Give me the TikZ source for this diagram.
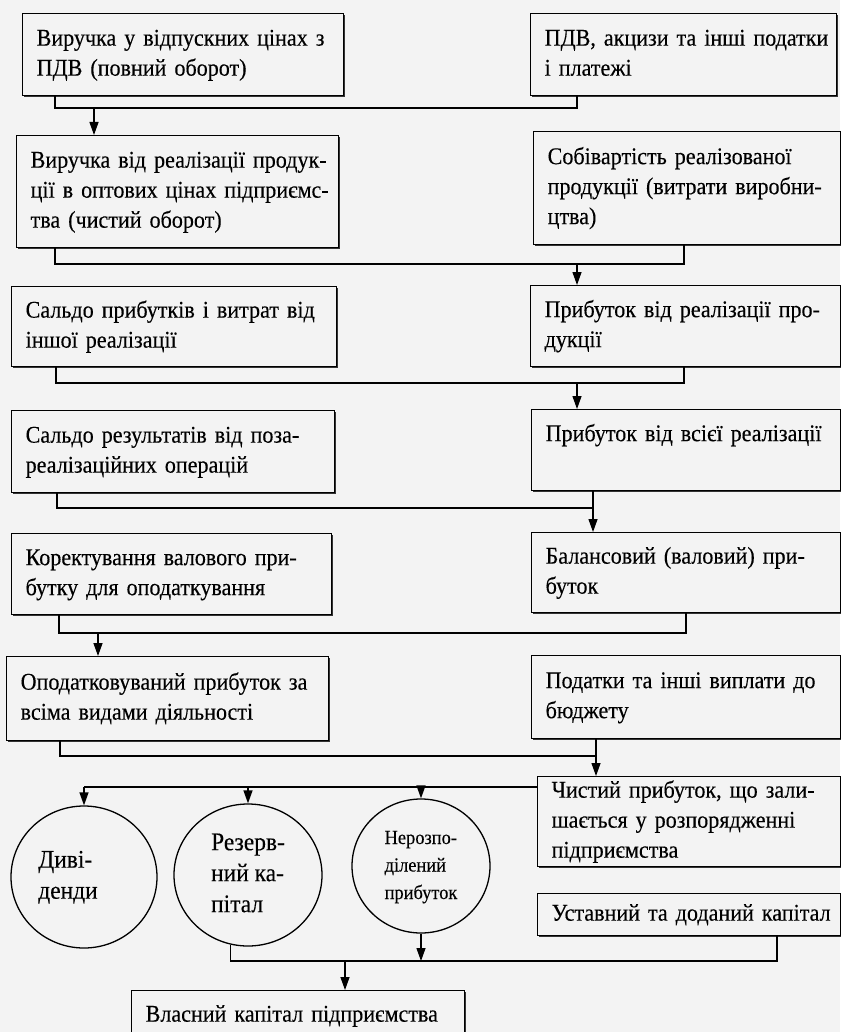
\documentclass[tikz,border=0pt]{standalone}
\usepackage{fontspec}
\setmainfont{Liberation Serif}[FakeStretch=0.92,FakeBold=0.25]
\usetikzlibrary{arrows.meta,shadows,shapes.geometric,calc}
\definecolor{bgc}{RGB}{243,243,243}
\newcommand{\lns}[1]{\begin{tabular}{@{}l@{}}#1\end{tabular}}
\begin{document}
\begin{tikzpicture}[x=1pt,y=-1pt,
  ln/.style={line width=1.3pt},
  arr/.style={line width=1.3pt,-{Triangle[length=13pt,width=9pt]}},
  box/.style={draw,line width=1.3pt,fill=bgc,
    general shadow={shadow xshift=1.6pt,shadow yshift=-1.6pt,fill=black!80},
    anchor=north west,align=left,inner xsep=14pt,inner ysep=0pt,
    font=\fontsize{24}{30}\selectfont},
  ell/.style={draw,ellipse,line width=1.3pt,inner sep=0pt,align=left,
    font=\fontsize{25.5}{31}\selectfont}
]
\fill[bgc] (0,0) rectangle (840,1032);
\useasboundingbox (0,0) rectangle (840,1032);

% row 1
\node[box,minimum width=321pt,text width=293pt,minimum height=82pt] (A) at (22,13) {\lns{Виручка у відпускних цінах з\\ПДВ (повний оборот)}};
\node[box,minimum width=306pt,text width=278pt,minimum height=82pt] (B) at (530,13) {\lns{ПДВ, акцизи та інші податки\\і платежі}};
% row 2
\node[box,minimum width=322pt,text width=294pt,minimum height=112pt] (C) at (16,135) {\lns{Виручка від реалізації продук-\\ції в оптових цінах підприємс-\\тва (чистий оборот)}};
\node[box,minimum width=307pt,text width=279pt,minimum height=113pt] (D) at (533,131) {\lns{Собівартість реалізованої\\продукції (витрати виробни-\\цтва)}};
% row 3
\node[box,minimum width=325pt,text width=297pt,minimum height=80pt] (E) at (11,286) {\lns{Сальдо прибутків і витрат від\\іншої реалізації}};
\node[box,minimum width=310pt,text width=282pt,minimum height=81pt] (F) at (530,285) {\lns{Прибуток від реалізації про-\\дукції}};
% row 4
\node[box,minimum width=323pt,text width=295pt,minimum height=82pt] (G) at (11,410) {\lns{Сальдо результатів від поза-\\реалізаційних операцій}};
\node[box,minimum width=309pt,text width=281pt,minimum height=81pt] (H) at (531,409) {\lns{Прибуток від всієї реалізації\\\mbox{}}};
% row 5
\node[box,minimum width=320pt,text width=292pt,minimum height=81pt] (I) at (11,533) {\lns{Коректування валового при-\\бутку для оподаткування}};
\node[box,minimum width=309pt,text width=281pt,minimum height=80pt] (J) at (531,532) {\lns{Балансовий (валовий) при-\\буток}};
% row 6
\node[box,minimum width=322pt,text width=294pt,minimum height=84pt] (K) at (6,656) {\lns{Оподатковуваний прибуток за\\всіма видами діяльності}};
\node[box,minimum width=309pt,text width=281pt,minimum height=83pt] (L) at (531,655) {\lns{Податки та інші виплати до\\бюджету}};
% row 7
\node[box,minimum width=303pt,text width=275pt,minimum height=87pt] (M) at (537,776) {\lns{Чистий прибуток, що зали-\\шається у розпорядженні\\підприємства}};
\node[box,minimum width=303pt,text width=275pt,minimum height=42pt] (N) at (537,893) {\lns{Уставний та доданий капітал}};
\node[box,minimum width=333pt,text width=305pt,minimum height=50pt] (O) at (131,990) {\lns{Власний капітал підприємства}};

% ellipses
\node[ell,minimum width=146pt,minimum height=142pt] (e1) at (84,877) {\lns{Диві-\\денди}\hspace*{32pt}};
\node[ell,minimum width=148pt,minimum height=142pt] (e2) at (248,875) {\lns{Резерв-\\ний ка-\\пітал}};
\node[ell,minimum width=138pt,minimum height=134pt,font=\fontsize{20}{27.5}\selectfont] (e3) at (421,866) {\lns{Нерозпо-\\ділений\\прибуток}};

% connectors
\coordinate (j1) at (94,108);
\draw[ln] ([xshift=33pt]A.south west) |- (j1) -| ([xshift=47pt]B.south west);
\draw[arr] (j1) -- (j1 |- C.north);

\coordinate (j2) at (577,264);
\draw[ln] ([xshift=39pt]C.south west) |- (j2) -| ([xshift=151pt]D.south west);
\draw[arr] (j2) -- (j2 |- F.north);

\coordinate (j3) at (577,383);
\draw[ln] ([xshift=45pt]E.south west) |- (j3) -| ([xshift=154pt]F.south west);
\draw[arr] (j3) -- (j3 |- H.north);

\coordinate (j4) at (593,508);
\draw[ln] ([xshift=46pt]G.south west) |- (j4);
\draw[arr] (j4 |- H.south) -- (j4 |- J.north);

\coordinate (j5) at (98,633);
\draw[ln] ([xshift=48pt]I.south west) |- (j5) -| ([xshift=155pt]J.south west);
\draw[arr] (j5) -- (j5 |- K.north);

\coordinate (j6) at (596,756);
\draw[ln] ([xshift=54pt]K.south west) |- (j6);
\draw[arr] (j6 |- L.south) -- (j6 |- M.north);

\coordinate (j7) at (84,787);
\draw[ln] (M.west |- j7) -- (j7);
\draw[arr] (j7) -- (e1.north);
\draw[arr] (e2.north |- j7) -- (e2.north);
\draw[arr] (e3.north |- j7) -- (e3.north);

\coordinate (j8) at (345,961);
\coordinate (j9) at (777,961);
\draw[ln] (e2.256) |- (j9) -- (j9 |- N.south);
\draw[arr] (e3.south) -- (e3.south |- j9);
\draw[arr] (j8) -- (j8 |- O.north);
\end{tikzpicture}
\end{document}
